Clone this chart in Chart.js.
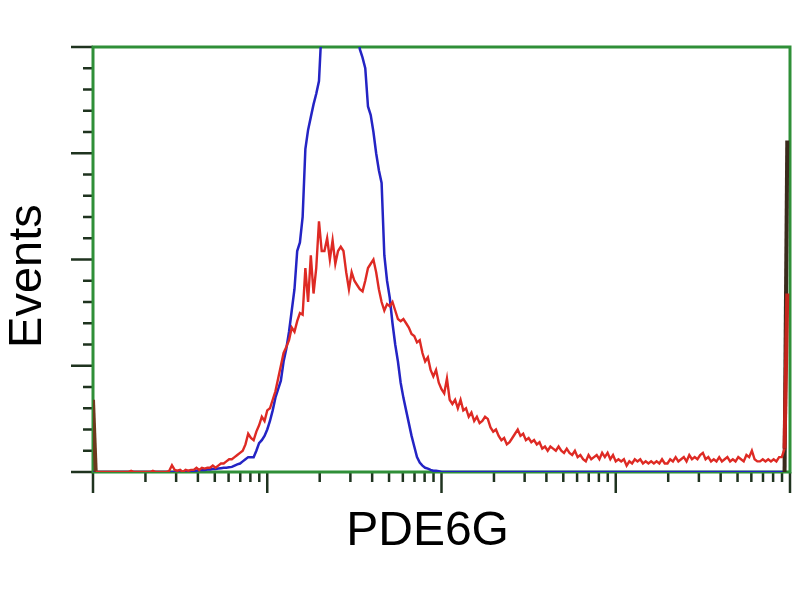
<!DOCTYPE html>
<html>
<head>
<meta charset="utf-8">
<script src="https://cdn.jsdelivr.net/npm/chart.js@4/dist/chart.umd.min.js"></script>
<style>
html,body{margin:0;padding:0;background:#ffffff;}
#wrap{width:800px;height:600px;}
</style>
</head>
<body>
<div id="wrap"><canvas id="c" width="800" height="600"></canvas></div>
<script>
// ---- text ----
const xTitle = 'PDE6G';
const yTitle = 'Events';

// ---- axis ticks (x in channels, 64 channels per decade; y in % of full scale) ----
const xDecadeTicks = [0, 64, 128, 192, 256];
const yMajorTicks = [0, 25, 50, 75, 100];
const yMinorStep = 5;

// ---- series: counts per channel 0..255 ----
const redCounts = [
  17,0,0,0,0,0,0,0,0,0,0,0,0,0,0.3,0,
  0,0,0,0,0,0,0.3,0,0,0,0,0,0.3,1.6,0.5,0.3,
  0.5,0,0.5,0.3,0.5,0.5,1,0.5,1,0.8,1,1,1.5,1,1.5,2,
  2,2.5,3,3,3.5,4,4.5,5,6.5,9,8,7.5,9.5,11,13,12,
  14.5,15,17,19,22,25,28,29.4,31,34,33,35.5,37.4,37,48,40,
  51,42,48,59,52,52,55,50,54.5,49,52,53,52,47,43,47,
  45,44,43,42.5,45,48,49,50,47,43,40,38,39.5,39,40,38,
  36,35.5,36,35,34,32.5,32,30.5,31,28,26,27,24,22.5,24,21,
  19.5,18.5,22,17,16,17,15,17,14.5,15,13,14,12,13,11.5,12,
  13,12.5,10.5,9.5,10,8.5,7.5,8,6.5,7,8,9,10,8.5,9,7.5,
  8,7,7.5,6.5,7,5.5,6,5,6,5.5,5,6,5,4.5,5.5,4.5,
  4,5,3.5,4,3,2.5,4,3,3.5,4,3,4.5,3.5,4.5,3,4,
  2.5,3,2.5,3,1.5,2.5,2,3,2.5,3,2,2.5,2,2.5,2,2.5,
  2,3,2,2,3,2.5,3.5,2.5,3,3.5,2.5,4,3,3.5,3,4,
  4.5,3,3.5,2.5,3,2.5,3.5,2.5,3,3.5,2.5,3,2.5,3.5,3,2.5,
  4,3.5,5,3,2.5,2.5,3,2.5,3,2.5,3,2.5,3.5,3.5,5.5,42
];

const blueCounts = [
  0,0,0,0,0,0,0,0,0,0,0,0,0,0,0,0,
  0,0,0,0,0,0,0,0,0,0,0,0,0,0,0,0,
  0,0,0,0,0,0.3,0.3,0.5,0.5,0.5,0.6,0.6,0.7,0.7,0.8,0.9,
  1,1,1.1,1.2,1.5,1.8,2,2.5,3,3.5,3.5,3.5,5,6.8,7.5,8.5,
  10,12,14.5,17.5,19.5,21.5,26,29,33,38,43,52,54,60,76,80.5,
  83.5,86.5,89,92,105,112,120,128,135,140,142,142,140,135,128,120,
  112,106,99.5,97.5,95,86,84,80,75,71,68,51,45,41,35,30,
  26,21,17.5,14.5,11.5,8.5,6,3.5,2.2,1.5,1,0.8,0.5,0.3,0.3,0.2,
  0,0,0,0,0,0,0,0,0,0,0,0,0,0,0,0,
  0,0,0,0,0,0,0,0,0,0,0,0,0,0,0,0,
  0,0,0,0,0,0,0,0,0,0,0,0,0,0,0,0,
  0,0,0,0,0,0,0,0,0,0,0,0,0,0,0,0,
  0,0,0,0,0,0,0,0,0,0,0,0,0,0,0,0,
  0,0,0,0,0,0,0,0,0,0,0,0,0,0,0,0,
  0,0,0,0,0,0,0,0,0,0,0,0,0,0,0,0,
  0,0,0,0,0,0,0,0,0,0,0,0,0,0,0,78
];

// ---- styles ----
const RED = '#de2a24';
const BLUE = '#2424c4';
const GREEN = '#2f8f38';
const TICK = '#1f331f';

const toPoints = arr => arr.map((v, i) => ({x: i, y: v}));

// minor log ticks (2..9 within each decade), in channel units
const xMinorTicks = [];
for (let d = 0; d < xDecadeTicks.length - 1; d++) {
  const w = xDecadeTicks[d + 1] - xDecadeTicks[d];
  for (let k = 2; k <= 9; k++) xMinorTicks.push(xDecadeTicks[d] + w * Math.log10(k));
}
const yMinorTicks = [];
for (let v = yMinorStep; v < 100; v += yMinorStep) if (!yMajorTicks.includes(v)) yMinorTicks.push(v);

const frame = {
  id: 'frame',
  beforeDatasetsDraw(chart) {
    const {ctx, chartArea: a, scales: {x, y}} = chart;
    ctx.save();
    // tick marks
    ctx.strokeStyle = TICK;
    ctx.lineWidth = 2.5;
    ctx.beginPath();
    xDecadeTicks.forEach(v => { const p = x.getPixelForValue(v); ctx.moveTo(p, a.bottom); ctx.lineTo(p, a.bottom + 21); });
    xMinorTicks.forEach(v => { const p = x.getPixelForValue(v); ctx.moveTo(p, a.bottom); ctx.lineTo(p, a.bottom + 10); });
    yMajorTicks.forEach(v => { const p = y.getPixelForValue(v); ctx.moveTo(a.left, p); ctx.lineTo(a.left - 22, p); });
    yMinorTicks.forEach(v => { const p = y.getPixelForValue(v); ctx.moveTo(a.left, p); ctx.lineTo(a.left - 10, p); });
    ctx.stroke();
    // frame
    ctx.strokeStyle = GREEN;
    ctx.lineWidth = 3;
    ctx.strokeRect(a.left, a.top, a.right - a.left, a.bottom - a.top);
    // titles
    ctx.fillStyle = '#000';
    ctx.textAlign = 'center';
    ctx.textBaseline = 'middle';
    ctx.font = '48px "Liberation Sans", Arial, sans-serif';
    ctx.fillText(xTitle, a.left + (a.right - a.left) * 0.48, a.bottom + 60);
    ctx.translate(28, a.top + (a.bottom - a.top) * 0.539);
    ctx.rotate(-Math.PI / 2);
    ctx.font = '47px "Liberation Sans", Arial, sans-serif';
    ctx.fillText(yTitle, 0, 0);
    ctx.restore();
  }
};

const lastIdx = redCounts.length - 1;

new Chart(document.getElementById('c').getContext('2d'), {
  type: 'line',
  data: {
    datasets: [
      {
        label: 'PDE6G',
        data: toPoints(redCounts),
        borderColor: RED,
        borderWidth: 2.4,
        pointRadius: 0,
        segment: {
          borderColor: c => c.p0DataIndex === 0 ? '#6b3a1c' : (c.p1DataIndex === lastIdx ? '#c4241c' : undefined),
          borderWidth: c => (c.p0DataIndex === 0 || c.p1DataIndex === lastIdx) ? 4 : undefined
        }
      },
      {
        label: 'Control',
        data: toPoints(blueCounts),
        borderColor: BLUE,
        borderWidth: 2.5,
        pointRadius: 0,
        segment: {
          borderColor: c => c.p1DataIndex === lastIdx ? '#3a2a1c' : undefined,
          borderWidth: c => c.p1DataIndex === lastIdx ? 4 : undefined
        }
      }
    ]
  },
  options: {
    responsive: false,
    animation: false,
    layout: { padding: { left: 93, right: 10, top: 47, bottom: 128 } },
    elements: { line: { tension: 0 } },
    scales: {
      x: { type: 'linear', min: 0, max: 256, display: false },
      y: { min: 0, max: 100, display: false }
    },
    plugins: { legend: { display: false }, tooltip: { enabled: false } }
  },
  plugins: [frame]
});
</script>
</body>
</html>
